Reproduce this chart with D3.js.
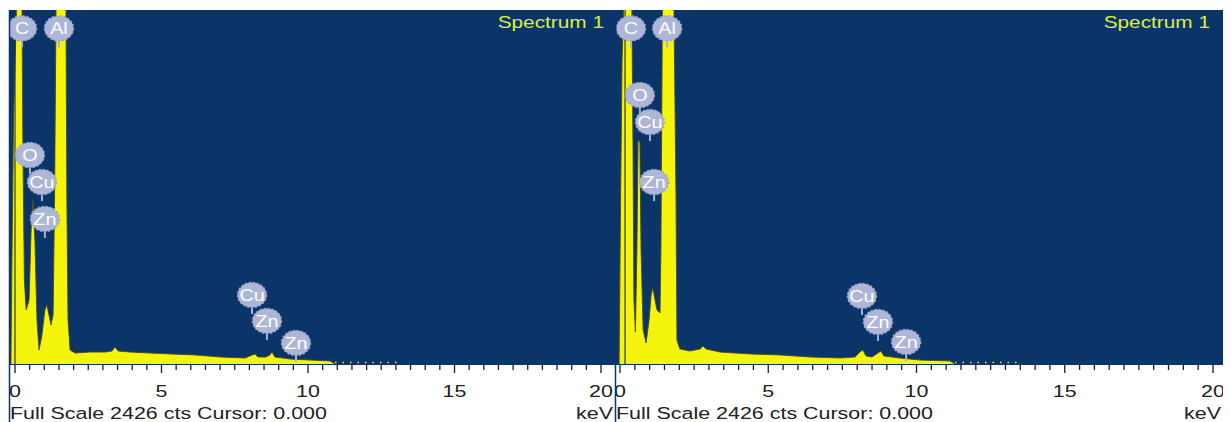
<!DOCTYPE html>
<html>
<head>
<meta charset="utf-8">
<script src="https://cdn.jsdelivr.net/npm/d3@7"></script>
<style>
body { margin: 0; background: #fff; }
svg { display: block; }
text { font-family: "Liberation Sans", Arial, sans-serif; }
</style>
</head>
<body>
<svg id="chart" width="1231" height="422"></svg>
<script>
// left spectrum, keV / counts
var leftKeV = [ -0.14, -0.10, -0.05, 0.05, 0.14, 0.24, 0.27, 0.32, 0.38, 0.48, 0.55, 0.61, 0.68, 0.75, 0.82,
	0.92, 1.02, 1.09, 1.16, 1.23, 1.30, 1.35, 1.40, 1.57, 1.74, 1.77, 1.81, 1.88, 2.05, 2.56, 3.07, 3.31, 3.41,
	3.52, 3.92, 4.61, 5.29, 6.14, 7.00, 7.85, 8.02, 8.19, 8.29, 8.57, 8.70, 8.77, 8.87, 9.39, 10.07, 10.75, 10.92 ];
var leftCts = [ 0, 781, 1672, 2426, 6606, 2426, 1467, 576, 370, 439, 918, 1124, 850, 302, 96,
	199, 370, 404, 336, 267, 336, 1124, 2426, 7977, 2426, 1124, 302, 96, 75, 82, 82, 89, 117,
	89, 82, 75, 69, 62, 48, 41, 55, 69, 48, 48, 62, 82, 48, 34, 27, 21, 0 ];

// right spectrum
var rightKeV = [ -0.03, 0.02, 0.07, 0.12, 0.27, 0.40, 0.44, 0.47, 0.52, 0.57, 0.61, 0.67, 0.71, 0.78, 0.88,
	0.98, 1.05, 1.11, 1.18, 1.25, 1.35, 1.38, 1.43, 1.62, 1.82, 1.89, 1.92, 2.02, 2.36, 2.70, 2.80, 2.90, 3.37,
	4.38, 5.40, 6.41, 7.42, 7.93, 8.09, 8.19, 8.30, 8.50, 8.70, 8.80, 8.90, 9.44, 10.12, 11.13, 11.30 ];
var rightCts = [ 0, 1124, 2083, 2426, 6606, 2426, 1467, 439, 219, 781, 1535, 1521, 781, 233, 144,
	302, 473, 521, 439, 370, 350, 781, 2426, 7977, 2426, 1124, 164, 103, 89, 103, 123, 103, 82,
	69, 62, 48, 41, 48, 82, 96, 55, 48, 75, 89, 55, 41, 27, 21, 0 ];

// sparse dotted tail after the spectrum ends
var leftTail = [ 10.92, 13.1 ];
var rightTail = [ 11.30, 13.5 ];

// element markers
var leftLabels = [ 'C', 'Al', 'O', 'Cu', 'Zn', 'Cu', 'Zn', 'Zn' ];
var leftLabelKeV = [ 0.24, 1.50, 0.51, 0.92, 1.02, 8.09, 8.60, 9.59 ];
var leftLabelCts = [ 2300, 2300, 1432, 1247, 994, 473, 295, 144 ];
var rightLabels = [ 'C', 'Al', 'O', 'Cu', 'Zn', 'Cu', 'Zn', 'Zn' ];
var rightLabelKeV = [ 0.37, 1.59, 0.67, 1.01, 1.15, 8.16, 8.70, 9.65 ];
var rightLabelCts = [ 2300, 2300, 1843, 1658, 1247, 466, 288, 151 ];

var tickValues = d3.range( 0, 20.01, 0.5 );
var tickLabels = [ 0, 5, 10, 15, 20 ];
var fullScale = 2426;
var cursorKeV = [ 0, 0.17 ];

var panels = [
	{ x0: 9, x1: 615, range: [ 15, 601 ], keV: leftKeV, cts: leftCts, tail: leftTail,
		labels: leftLabels, lKeV: leftLabelKeV, lCts: leftLabelCts, cursor: cursorKeV[ 0 ] },
	{ x0: 615, x1: 1223, range: [ 620, 1213 ], keV: rightKeV, cts: rightCts, tail: rightTail,
		labels: rightLabels, lKeV: rightLabelKeV, lCts: rightLabelCts, cursor: cursorKeV[ 1 ] }
];

var NAVY = '#0b3468',
	TOP = 10,
	BASE = 364,
	STRETCH = 1.3;

var svg = d3.select( '#chart' );
var defs = svg.append( 'defs' );

var y = d3.scaleLinear().domain( [ 0, fullScale ] ).range( [ BASE, TOP ] );

// stretched text helper (the picture's text is wide)
function wideText( g, str, x, yy, anchor, size, color ) {
	return g.append( 'text' )
		.attr( 'transform', 'translate(' + x + ',' + yy + ') scale(' + STRETCH + ',1)' )
		.attr( 'text-anchor', anchor )
		.attr( 'font-size', size )
		.attr( 'fill', color )
		.text( str );
}

panels.forEach( function( p, i ) {
	var x = d3.scaleLinear().domain( [ 0, 20 ] ).range( p.range );
	var g = svg.append( 'g' );

	defs.append( 'clipPath' ).attr( 'id', 'clip' + i )
		.append( 'rect' )
		.attr( 'x', p.x0 + 1 ).attr( 'y', TOP )
		.attr( 'width', p.x1 - p.x0 - 1 ).attr( 'height', BASE - TOP );
	defs.append( 'clipPath' ).attr( 'id', 'clipb' + i )
		.append( 'rect' )
		.attr( 'x', p.x0 + 1 ).attr( 'y', 0 )
		.attr( 'width', p.x1 - p.x0 - 1 ).attr( 'height', 422 );

	g.append( 'rect' )
		.attr( 'x', p.x0 ).attr( 'y', TOP )
		.attr( 'width', p.x1 - p.x0 ).attr( 'height', BASE - TOP + 1 )
		.attr( 'fill', NAVY );

	var plot = g.append( 'g' ).attr( 'clip-path', 'url(#clip' + i + ')' );

	var pts = p.keV.map( function( k, j ) { return [ k, p.cts[ j ] ]; } );
	var area = d3.area()
		.x( function( d ) { return x( d[ 0 ] ); } )
		.y0( BASE )
		.y1( function( d ) { return y( d[ 1 ] ); } );
	var line = d3.line()
		.x( function( d ) { return x( d[ 0 ] ); } )
		.y( function( d ) { return y( d[ 1 ] ); } );

	plot.append( 'path' ).datum( pts )
		.attr( 'd', area )
		.attr( 'fill', '#f4f40c' );
	plot.append( 'path' ).datum( pts )
		.attr( 'd', line )
		.attr( 'fill', 'none' )
		.attr( 'stroke', '#4a4a1c' )
		.attr( 'stroke-width', 0.9 );

	// dotted tail
	plot.append( 'line' )
		.attr( 'x1', x( p.tail[ 0 ] ) ).attr( 'x2', x( p.tail[ 1 ] ) )
		.attr( 'y1', BASE - 1.5 ).attr( 'y2', BASE - 1.5 )
		.attr( 'stroke', '#e8f040' ).attr( 'stroke-width', 1.5 )
		.attr( 'stroke-dasharray', '1.5,6' );

	// cursor
	plot.append( 'line' )
		.attr( 'x1', x( p.cursor ) ).attr( 'x2', x( p.cursor ) )
		.attr( 'y1', TOP ).attr( 'y2', BASE )
		.attr( 'stroke', '#2a3a40' ).attr( 'stroke-width', 1.2 );

	// element markers
	var mk = plot.selectAll( 'g.mk' ).data( p.labels )
		.enter().append( 'g' ).attr( 'class', 'mk' )
		.attr( 'transform', function( d, j ) {
			return 'translate(' + x( p.lKeV[ j ] ) + ',' + y( p.lCts[ j ] ) + ')';
		} );
	mk.append( 'line' )
		.attr( 'x1', 0 ).attr( 'x2', 0 ).attr( 'y1', 9 ).attr( 'y2', 19 )
		.attr( 'stroke', '#aab3d6' ).attr( 'stroke-width', 2 );
	mk.append( 'ellipse' )
		.attr( 'rx', 14.5 ).attr( 'ry', 12.5 )
		.attr( 'fill', '#aeb6d8' )
		.attr( 'stroke', '#9aa4cc' ).attr( 'stroke-width', 1.5 )
		.attr( 'stroke-dasharray', '2,2' );
	mk.append( 'text' )
		.attr( 'transform', 'scale(1.2,1)' )
		.attr( 'text-anchor', 'middle' )
		.attr( 'y', 6 )
		.attr( 'font-size', 16.5 )
		.attr( 'fill', '#ffffff' )
		.text( function( d ) { return d; } );

	wideText( g, 'Spectrum 1', p.x0 + 595, 28, 'end', 16, '#dcef3c' );

	// axis ticks
	var bottom = g.append( 'g' ).attr( 'clip-path', 'url(#clipb' + i + ')' );
	bottom.selectAll( 'line.tk' ).data( tickValues )
		.enter().append( 'line' ).attr( 'class', 'tk' )
		.attr( 'x1', function( d ) { return x( d ); } )
		.attr( 'x2', function( d ) { return x( d ); } )
		.attr( 'y1', BASE + 1 )
		.attr( 'y2', function( d ) { return d % 5 === 0 ? BASE + 9 : BASE + 6; } )
		.attr( 'stroke', '#1a1a2a' ).attr( 'stroke-width', 1.3 );

	tickLabels.forEach( function( t ) {
		wideText( bottom, t, x( t ), 397, 'middle', 16.5, '#222' );
	} );

	wideText( bottom, 'Full Scale ' + fullScale + ' cts Cursor: 0.000', p.x0 + 1, 419, 'start', 16.5, '#222' );
	wideText( bottom, 'keV', p.x1 - 2, 419, 'end', 16.5, '#222' );

	// panel border
	g.append( 'line' )
		.attr( 'x1', p.x0 + 0.5 ).attr( 'x2', p.x0 + 0.5 )
		.attr( 'y1', TOP ).attr( 'y2', 422 )
		.attr( 'stroke', NAVY ).attr( 'stroke-width', 1.5 );
} );
</script>
</body>
</html>
